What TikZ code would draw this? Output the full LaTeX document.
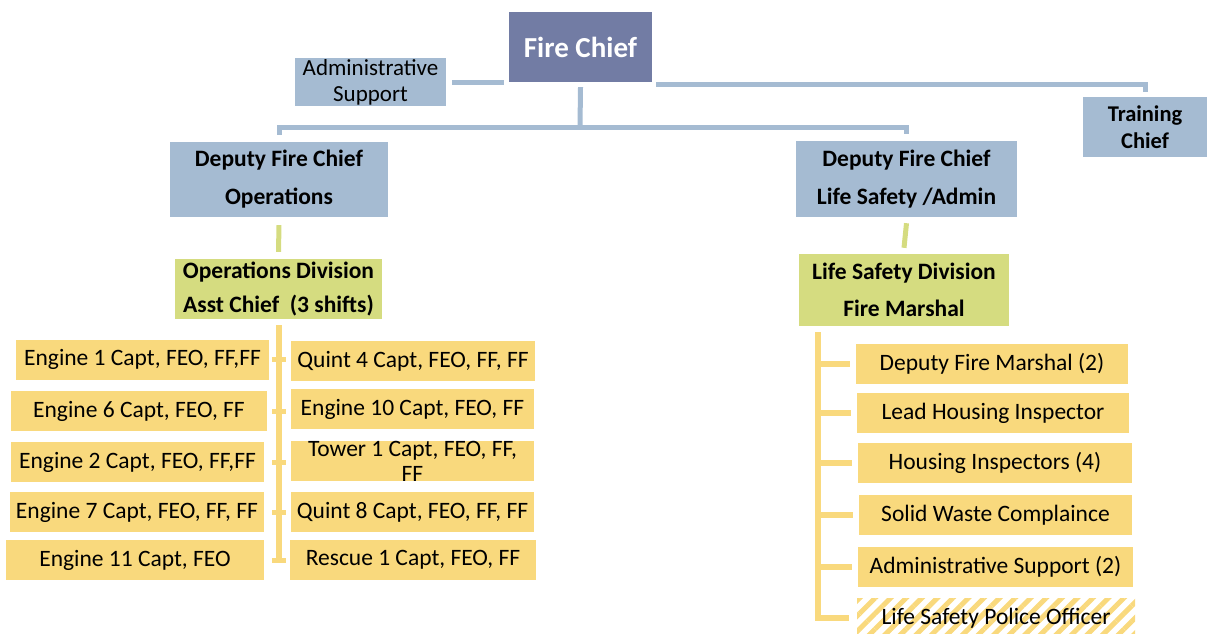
\documentclass[tikz,border=0pt]{standalone}
\usepackage{fontspec}
\setmainfont{Carlito}
\usetikzlibrary{positioning}
\usetikzlibrary{patterns.meta}

\definecolor{chiefblue}{RGB}{114,124,164}
\definecolor{staffblue}{RGB}{165,187,210}
\definecolor{divgreen}{RGB}{213,220,128}
\definecolor{unityellow}{RGB}{249,217,125}

\tikzset{
	box/.style={inner sep=0pt, align=center, text=black},
	chiefbox/.style={box, fill=chiefblue, text=white, font=\fontsize{29}{32}\selectfont\bfseries},
	staffbox/.style={box, fill=staffblue},
	divbox/.style={box, fill=divgreen, font=\fontsize{23.5}{37}\selectfont\bfseries},
	unitbox/.style={box, fill=unityellow, minimum height=40pt, font=\fontsize{23.5}{25}\selectfont},
	blueline/.style={draw=staffblue, line width=5pt},
	greenline/.style={draw=divgreen, line width=5pt},
	yellowline/.style={draw=unityellow, line width=6pt},
	tickline/.style={draw=unityellow, line width=5pt},
}

\begin{document}
\begin{tikzpicture}[x=1pt, y=-1pt]
		\useasboundingbox (0,0) rectangle (1207,633);
		% top level
		\node[chiefbox, minimum width=143pt, minimum height=70pt] (chief) at (580.5,47) {Fire Chief};
		\node[staffbox, minimum width=151pt, minimum height=48pt, font=\fontsize{23}{26}\selectfont] (adminsup) at (370.5,82) {Administrative\\Support};
		\node[staffbox, minimum width=124pt, minimum height=60pt, font=\fontsize{22.5}{27}\selectfont\bfseries] (training) at (1145,127) {Training\\Chief};
		\node[staffbox, minimum width=218pt, minimum height=75pt, font=\fontsize{23.5}{38}\selectfont\bfseries] (depops) at (279,179.5) {Deputy Fire Chief\\Operations};
		\node[staffbox, minimum width=221pt, minimum height=76pt, font=\fontsize{23.5}{38}\selectfont\bfseries] (deplife) at (906.5,179) {Deputy Fire Chief\\Life Safety /Admin};
		% divisions
		\node[divbox, minimum width=207pt, minimum height=60pt] (opsdiv) at (278.5,289) {\raisebox{-3pt}{Operations Division}\\Asst Chief\ \ (3 shifts)};
		\node[divbox, minimum width=210pt, minimum height=72pt] (lifediv) at (904,290) {Life Safety Division\\Fire Marshal};
		% operations companies
		\node[unitbox, minimum width=253pt] (e1) at (142.5,359.5) {Engine 1 Capt, FEO, FF,FF};
		\node[unitbox, minimum width=256pt] (e6) at (139,411) {Engine 6 Capt, FEO, FF};
		\node[unitbox, minimum width=253pt] (e2) at (137.5,462) {Engine 2 Capt, FEO, FF,FF};
		\node[unitbox, minimum width=254pt] (e7) at (137,512) {Engine 7 Capt, FEO, FF, FF};
		\node[unitbox, minimum width=258pt] (e11) at (135,560) {Engine 11 Capt, FEO};
		\node[unitbox, minimum width=244pt] (q4) at (413,361) {Quint 4 Capt, FEO, FF, FF};
		\node[unitbox, minimum width=243pt] (e10) at (412.5,409) {Engine 10 Capt, FEO, FF};
		\node[unitbox, minimum width=243pt] (t1) at (412.5,461) {Tower 1 Capt, FEO, FF,\\FF};
		\node[unitbox, minimum width=243pt] (q8) at (412.5,512) {Quint 8 Capt, FEO, FF, FF};
		\node[unitbox, minimum width=246pt] (r1) at (413,560) {Rescue 1 Capt, FEO, FF};
		% life safety staff
		\node[unitbox, minimum width=272pt] (dfm) at (992,363.5) {Deputy Fire Marshal (2)};
		\node[unitbox, minimum width=272pt] (lhi) at (993,413) {Lead Housing Inspector};
		\node[unitbox, minimum width=274pt] (hi) at (995,463) {Housing Inspectors (4)};
		\node[unitbox, minimum width=273pt] (sw) at (995.5,515) {Solid Waste Complaince};
		\node[unitbox, minimum width=275pt] (as2) at (995.5,567) {Administrative Support (2)};
		\node[box, minimum width=278pt, minimum height=40pt, font=\fontsize{23.5}{25}\selectfont,
			pattern={Lines[angle=45, distance=11pt, line width=5pt]}, pattern color=unityellow] (lspo) at (996,618) {Life Safety Police Officer};
		% blue connectors
		\coordinate (adminjoin) at (adminsup.east -| chief.west);
		\draw[blueline] ([xshift=6pt]adminsup.east) -- ([xshift=-5pt]adminjoin);
		\draw[blueline] ([xshift=4pt,yshift=-2pt]chief.south east) -| ([yshift=5pt]training.north);
		\coordinate (bus) at (580,127);
		\draw[blueline] ([yshift=-5pt]chief.south) -- (bus);
		\draw[blueline] ([yshift=7pt]depops.north) |- (bus) -| ([yshift=7pt]deplife.north);
		% green connectors
		\draw[greenline] ([yshift=-8pt]depops.south) -- ([yshift=7pt]opsdiv.north);
		\draw[greenline] ([yshift=-6pt]deplife.south) -- ([yshift=6pt]lifediv.north);
		% operations spine
		\coordinate (tickl) at (272,0);
		\coordinate (tickr) at (286,0);
		\draw[yellowline] ([yshift=-6pt]opsdiv.south) -- (opsdiv.south |- e11);
		\foreach \n in {e1,e6,e2,e7,e11} {
			\draw[tickline] (\n -| tickl) -- (\n -| tickr);
		}
		% life safety spine
		\coordinate (lstop) at (818,332);
		\foreach \n in {dfm,lhi,hi,sw,as2,lspo} {
			\draw[yellowline] (lstop) |- ([xshift=-6pt]\n.west);
		}
\end{tikzpicture}
\end{document}
